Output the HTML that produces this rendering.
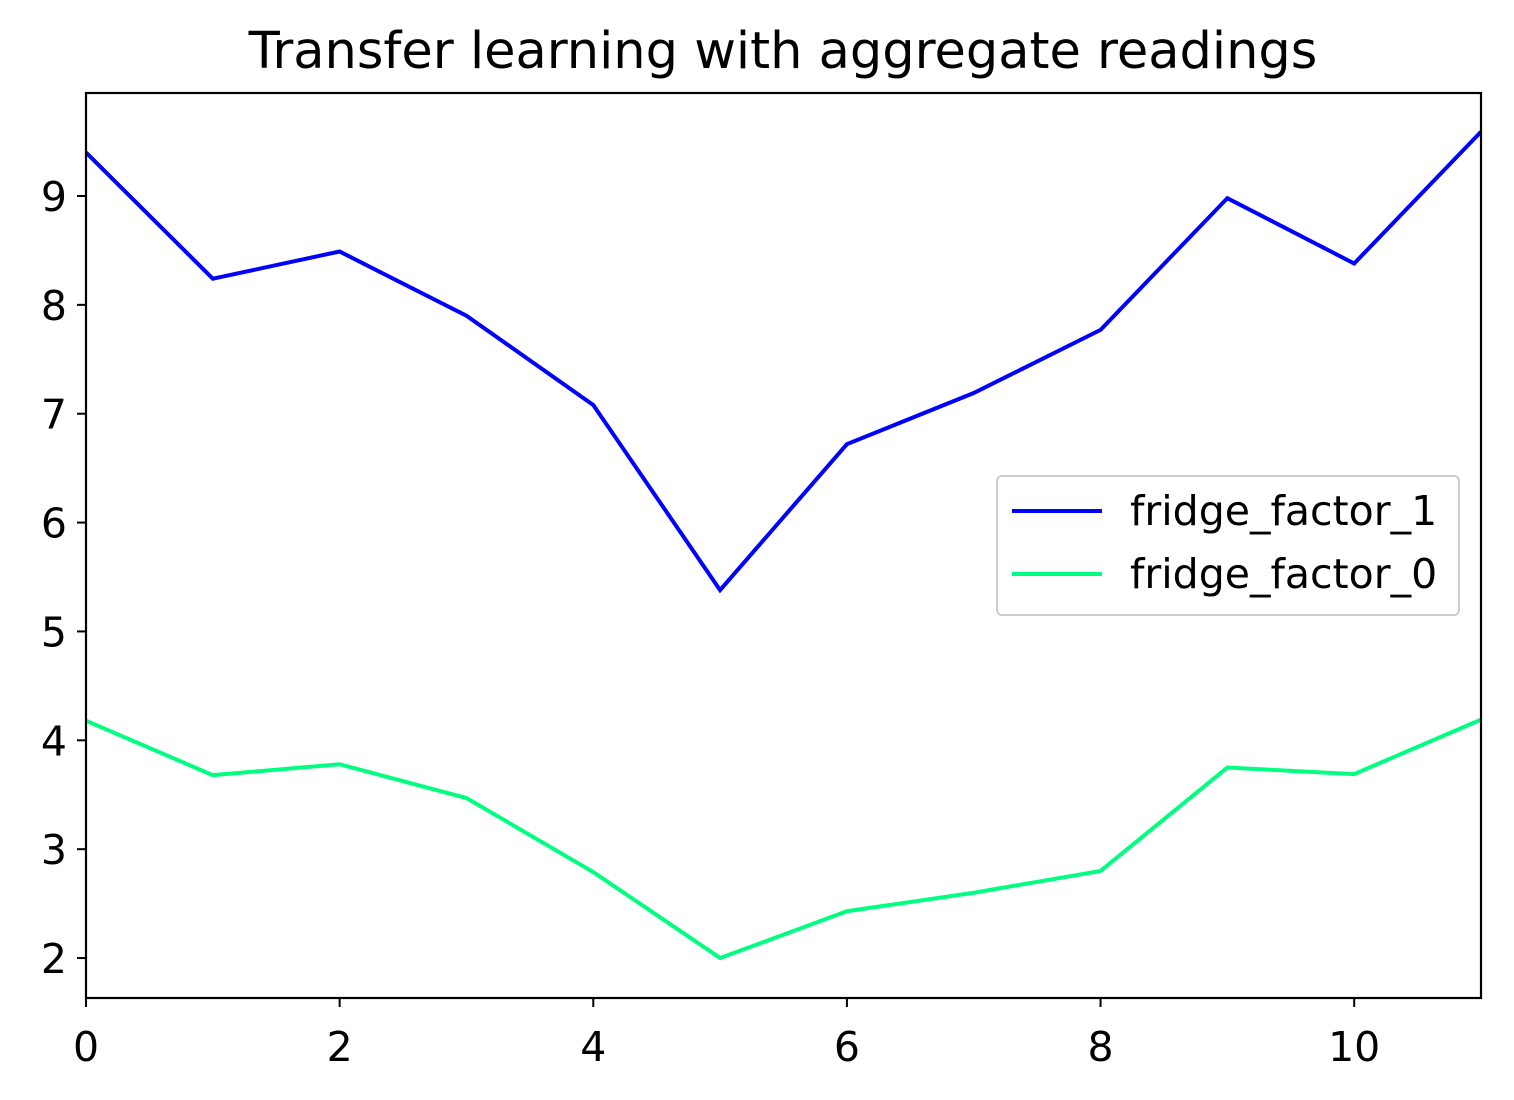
<!DOCTYPE html>
<html><head><meta charset="utf-8">
<style>
html,body{margin:0;padding:0;background:#fff;}
svg{display:block;font-family:"DejaVu Sans","Liberation Sans",sans-serif;}
</style></head>
<body>
<svg id="chart" width="1514" height="1100" viewBox="0 0 1514 1100">
<rect width="1514" height="1100" fill="#fff"/>
<text x="783" y="68" text-anchor="middle" font-size="51" fill="#000">Transfer learning with aggregate readings</text>
<g id="plot"></g>
</svg>
<script>
const xValues = [0,1,2,3,4,5,6,7,8,9,10,11];
const fridgeFactor1 = [9.40,8.24,8.49,7.90,7.08,5.38,6.72,7.19,7.77,8.98,8.38,9.59];
const fridgeFactor0 = [4.18,3.68,3.78,3.47,2.79,2.00,2.43,2.60,2.80,3.75,3.69,4.19];
const xTicks = [0,2,4,6,8,10];
const yTicks = [2,3,4,5,6,7,8,9];
const seriesNames = ["fridge_factor_1","fridge_factor_0"];

const L=86,R=1481,T=93,B=998;
const xMin=0,xMax=11,yMin=1.633,yMax=9.946;
const sx=v=>L+(v-xMin)/(xMax-xMin)*(R-L);
const sy=v=>B-(v-yMin)/(yMax-yMin)*(B-T);
const NS="http://www.w3.org/2000/svg";
const g=document.getElementById('plot');
function mk(tag,attrs){const e=document.createElementNS(NS,tag);for(const k in attrs)e.setAttribute(k,attrs[k]);g.appendChild(e);return e;}

function line(vals,color,name){
  const p=mk('polyline',{points:vals.map((v,i)=>sx(xValues[i])+','+sy(v)).join(' '),fill:'none',stroke:color,'stroke-width':4,'stroke-linejoin':'miter'});
  
  
}
line(fridgeFactor1,'#0000ff','series-fridge-factor-1');
line(fridgeFactor0,'#00ff80','series-fridge-factor-0');

const frame=mk('rect',{x:L,y:T,width:R-L,height:B-T,fill:'none',stroke:'#000','stroke-width':2.2});



xTicks.forEach(t=>{
  const x=sx(t);
  const tk=mk('line',{x1:x,x2:x,y1:B,y2:B+9,stroke:'#000','stroke-width':2});
  
  
  const tx=mk('text',{x:x,y:B+63,'text-anchor':'middle','font-size':41,fill:'#000'});
  tx.textContent=t;
  
  
});
yTicks.forEach(t=>{
  const y=sy(t);
  const tk=mk('line',{x1:L-9,x2:L,y1:y,y2:y,stroke:'#000','stroke-width':2});
  
  
  const tx=mk('text',{x:L-19,y:y+15,'text-anchor':'end','font-size':41,fill:'#000'});
  tx.textContent=t;
  
  
});

const lg=mk('rect',{x:997,y:476,width:462,height:139,rx:5,fill:'#fff','fill-opacity':0.8,stroke:'#ccc','stroke-width':2});


const colors=['#0000ff','#00ff80'];
seriesNames.forEach((n,i)=>{
  const y=511+i*63;
  const ln=mk('line',{x1:1012,x2:1102,y1:y,y2:y,stroke:colors[i],'stroke-width':4});
  
  
  const tx=mk('text',{x:1130,y:y+14,'font-size':41,fill:'#000'});
  tx.textContent=n;
  
  
});
</script>
</body></html>
